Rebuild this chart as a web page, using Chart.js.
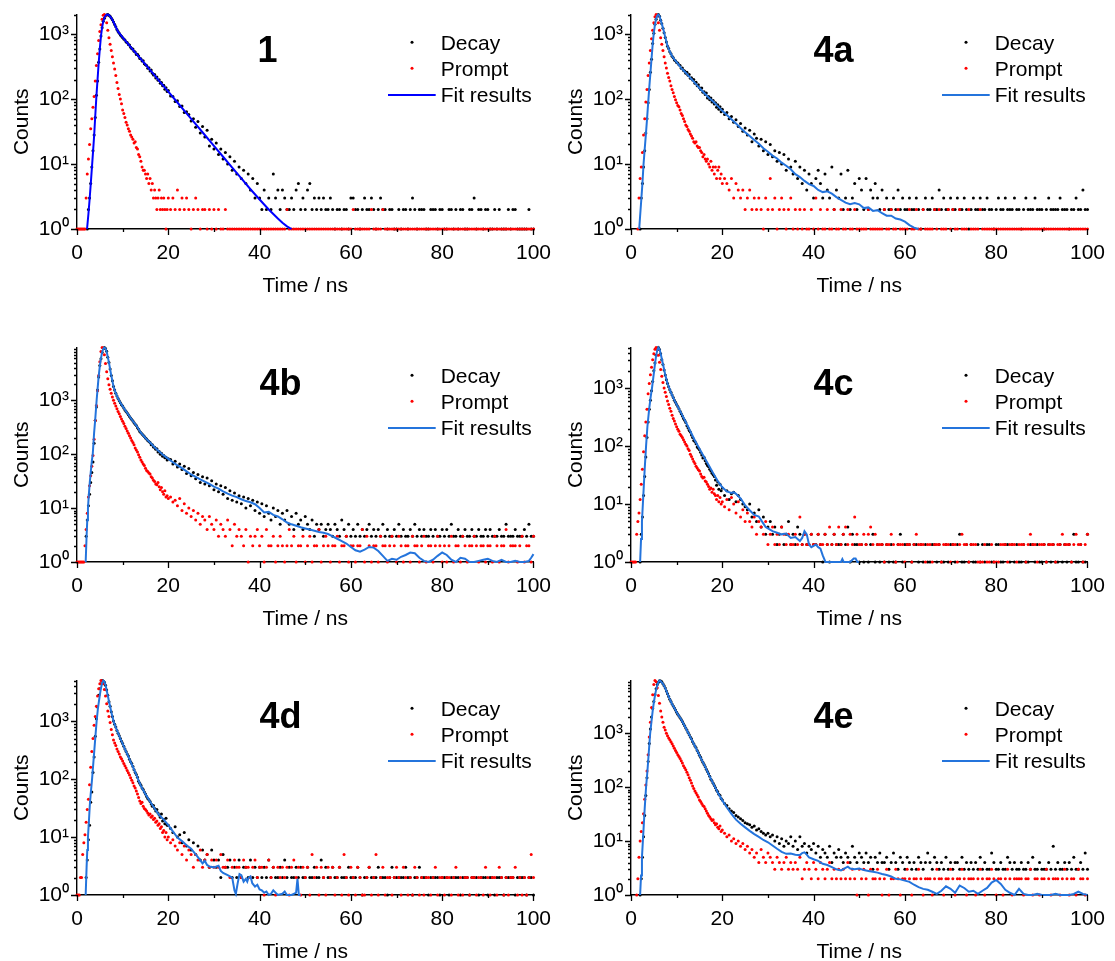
<!DOCTYPE html>
<html><head><meta charset="utf-8">
<script src="https://cdn.jsdelivr.net/npm/chart.js@4.4.1/dist/chart.umd.min.js"></script>
<style>
html,body{margin:0;padding:0;background:#fff;overflow:hidden;}
#wrap{position:relative;width:1115px;height:961px;background:#fff;}
canvas{position:absolute;}
</style></head><body><div id="wrap">
<canvas id="c0" width="557" height="295" style="left:0px;top:0px"></canvas>
<canvas id="c1" width="557" height="295" style="left:554px;top:0px"></canvas>
<canvas id="c2" width="557" height="295" style="left:0px;top:333px"></canvas>
<canvas id="c3" width="557" height="295" style="left:554px;top:333px"></canvas>
<canvas id="c4" width="557" height="295" style="left:0px;top:666px"></canvas>
<canvas id="c5" width="557" height="295" style="left:554px;top:666px"></canvas>
</div>
<script>
// ---- time channels (ns) ----
const TA=[0,0.25,0.5,0.75,1,1.25,1.5,1.75,
2,2.25,2.5,2.75,3,3.25,3.5,3.75,
4,4.25,4.5,4.75,5,5.25,5.5,5.75,
6,6.25,6.5,6.75,7,7.25,7.5,7.75,
8,8.25,8.5,8.75,9,9.25,9.5,9.75,
10,10.25,10.5,10.75,11,11.25,11.5,11.75,
12,12.25,12.5,12.75,13,13.25,13.5,13.75,
14,14.25,14.5,14.75,15,15.25,15.5,15.75,
16,16.25,16.5,16.75,17,17.25,17.5,17.75,
18,18.25,18.5,18.75,19,19.25,19.5,19.75,
20];
const TB=[20.5,21,21.5,22,22.5,23,23.5,24,24.5,25,
25.5,26,26.5,27,27.5,28,28.5,29,29.5,30,
30.5,31,31.5,32,32.5,33,33.5,34,34.5,35,
35.5,36,36.5,37,37.5,38,38.5,39,39.5,40,
40.5,41,41.5,42,42.5,43,43.5,44,44.5,45,
45.5,46,46.5,47,47.5,48,48.5,49,49.5,50,
50.5,51,51.5,52,52.5,53,53.5,54,54.5,55,
55.5,56,56.5,57,57.5,58,58.5,59,59.5,60,
60.5,61,61.5,62,62.5,63,63.5,64,64.5,65,
65.5,66,66.5,67,67.5,68,68.5,69,69.5,70,
70.5,71,71.5,72,72.5,73,73.5,74,74.5,75,
75.5,76,76.5,77,77.5,78,78.5,79,79.5,80,
80.5,81,81.5,82,82.5,83,83.5,84,84.5,85,
85.5,86,86.5,87,87.5,88,88.5,89,89.5,90,
90.5,91,91.5,92,92.5,93,93.5,94,94.5,95,
95.5,96,96.5,97,97.5,98,98.5,99,99.5,100];
const T=TA.concat(TB);

// ---- panel 1 ----
const DECAY_1=[0,0,0,0,0,0,0,0,
0,1,2,3,5,9,16,28,
52,115,190,370,590,940,1250,1580,
1760,1930,1980,2000,1950,1880,1780,1660,
1540,1410,1300,1180,1100,1030,970,925,
880,842,815,760,745,690,680,628,
596,590,545,532,486,490,462,420,
418,385,390,350,338,330,298,305,
272,280,250,236,240,212,218,195,
198,176,180,160,164,142,150,131,
136,
112,110,92,94,77,78,62,64,58,46,
50,37,45,30,38,26,33,19,24,17,
21,14,17,12,15,10,13,8,11,7,
9,6,8,5,7,4,6,3,5,3,
2,4,2,3,2,7,3,4,2,4,
3,2,2,3,2,4,5,2,3,2,
4,5,2,3,2,3,2,3,2,2,
3,2,1,2,2,1,2,2,1,3,
3,2,2,1,2,3,2,2,3,2,
1,2,3,2,2,1,2,2,1,1,
2,1,2,2,1,2,3,2,1,2,
2,2,1,1,2,2,2,1,2,2,
1,1,2,2,1,2,1,2,2,1,
1,2,2,3,1,2,2,1,2,2,
1,1,2,1,2,1,1,1,2,1,
2,2,1,1,1,1,1,2,1,1];
const PROMPT_1=[1,1,1,1,1,1,1,1,
3,7,12,20,35,50,75,110,
190,330,500,800,1100,1400,1700,1950,
2000,1900,1500,1150,880,700,560,450,
360,290,230,180,145,118,100,85,
68,60,52,44,40,35,32,28,
26,24,21,22,18,17,14,13,
11,9,8,8,7,6,7,5,
6,4,5,3,4,3,2,3,
4,2,3,2,3,2,1,2,
3,
2,3,2,4,2,3,2,3,2,1,
2,3,2,1,2,2,1,2,1,2,
1,2,1,1,2,1,1,1,1,1,
1,1,1,1,1,1,1,1,1,1,
1,1,1,1,1,1,1,1,1,1,
1,2,1,1,1,1,1,1,1,1,
1,1,1,1,1,1,1,1,1,1,
1,1,1,1,1,1,1,1,1,1,
2,1,1,1,1,1,1,1,2,1,
1,1,1,2,1,1,1,1,1,1,
1,1,1,1,1,1,1,1,1,1,
1,1,1,1,1,1,1,1,1,1,
1,1,1,1,1,1,1,1,1,1,
1,1,1,1,1,1,1,1,1,1,
1,1,1,1,1,1,1,1,1,1,
1,1,1,1,1,1,1,1,1,1];
const FIT_T_1=[2.2,2.5,2.75,3,3.25,3.5,3.75,4,4.25,4.5,4.75,5,5.25,5.5,5.75,6,6.25,6.5,6.75,7,7.5,8,8.5,9,10,12,14,16,18,20,22,24,26,28,30,32,34,36,38,40,42,44,45,46,47];
const FIT_1=[1,1.7,2.8,4.8,8.5,15,27,55,110,200,360,600,930,1270,1560,1780,1920,1990,2000,1960,1790,1540,1290,1090,890,606,413,281,191,130,88.6,60.3,41.1,28,19,12.96,8.82,6,4.09,2.85,2,1.45,1.25,1.1,1];

// ---- panel 4a ----
const DECAY_4A=[0,0,0,0,0,0,0,0,
1,3,5,9,16,30,50,88,
140,260,410,720,1030,1420,1700,1950,
2000,1880,1640,1450,1230,1050,890,760,
650,600,535,500,455,435,400,390,
365,360,338,330,298,300,276,270,
250,258,232,240,210,214,196,200,
175,182,160,166,150,140,148,128,
130,118,124,104,110,98,104,90,
95,84,88,75,82,70,76,64,
70,
58,62,50,54,44,48,38,42,32,36,
28,33,22,29,25,19,24,16,22,14,
20,13,16,11,15,10,14,8,12,9,
7,11,6,9,5,8,4,7,5,3,
6,8,5,3,7,4,3,9,2,4,
3,7,2,3,8,2,3,5,2,6,
4,2,6,2,4,3,5,3,2,4,
2,3,2,2,3,2,4,2,3,2,
2,3,2,2,3,2,1,2,3,2,
2,3,2,2,4,2,3,2,2,3,
2,2,3,2,2,3,2,1,2,3,
2,2,3,2,2,3,2,2,1,2,
3,2,2,3,2,2,2,3,2,2,
1,2,3,2,2,2,3,2,2,2,
1,2,3,2,2,2,2,3,2,2,
2,1,2,2,3,2,2,4,2,2];
const PROMPT_4A=[0,0,0,0,0,0,1,3,
6,9,15,28,50,90,140,230,
360,560,850,1150,1500,1850,2000,1900,
1500,1150,880,700,560,450,360,300,
250,215,190,160,140,125,110,98,
88,80,76,68,60,56,50,45,
40,38,34,32,29,27,25,22,
21,22,19,18,18,16,15,13,
14,12,11,12,10,9,11,8,
9,7,9,6,8,9,6,7,
5,
6,5,4,6,3,5,4,3,4,2,
3,4,2,3,2,3,2,1,3,2,
6,2,3,1,2,3,2,1,2,3,
1,2,1,2,1,2,1,1,2,1,
3,1,2,1,1,2,1,1,2,1,
1,2,1,1,2,1,1,2,1,1,
1,1,1,2,1,1,1,1,1,1,
2,1,1,2,1,1,2,1,1,1,
1,2,1,1,2,1,1,2,1,1,
1,1,2,1,2,1,1,1,2,1,
2,1,1,2,1,1,1,2,1,1,
1,1,2,1,1,1,1,1,1,1,
1,1,1,1,1,1,1,1,1,1,
1,1,1,1,1,1,1,1,1,1,
1,1,1,1,1,1,1,1,1,1,
1,1,1,1,1,1,1,1,1,1];
const FIT_T_4A=[1.8,2,2.25,2.5,2.75,3,3.25,3.5,3.75,4,4.25,4.5,4.75,5,5.25,5.5,5.75,6,6.25,6.5,7,7.5,8,8.5,9,9.5,10,
11,12,13,14,15,16,17,18,19,20,21,22,23,24,25,26,27,28,29,30,31,32,33,34,35,36,37,38,39,40,41,42,43,44,45,46,47,48,49,50,51,52,53,54,55,56,57,58,59,60,61,62,63];
const FIT_4A=[1,1.6,2.8,5,10,17,28,48,85,150,250,420,700,1050,1400,1720,1930,2000,1900,1650,1250,900,660,540,460,410,370,
300,255,212,178,148,125,106,92,78,66,57,49,42,36,31,27,23.5,20.5,17.5,15.5,13.5,12.2,10.5,9.4,8.3,7,6.3,5.5,4.9,4.6,4,3.7,3.8,3.5,3.1,2.8,2.55,2.4,2.5,2.4,2.1,2.15,1.9,1.95,1.75,1.6,1.6,1.45,1.4,1.3,1.15,1.05,1];

// ---- panel 4b ----
const DECAY_4B=[0,0,0,0,0,0,0,0,
3,6,11,18,30,46,72,160,
420,750,1550,2700,4400,5900,7700,9100,
9500,9100,8100,6300,5000,3800,2900,2300,
1800,1550,1350,1200,1080,980,900,830,
780,720,660,620,580,540,500,470,
440,415,385,360,340,310,290,265,
250,238,225,212,200,192,180,172,
165,150,150,136,135,124,126,110,
112,100,104,92,95,86,88,78,
82,
80,66,74,58,66,52,60,44,54,40,
46,35,42,30,38,28,36,26,32,22,
28,20,26,18,24,15,21,14,19,13,
17,12,16,10,15,11,14,9,13,8,
12,7,11,8,6,10,7,9,5,8,
6,9,5,7,4,8,5,6,4,7,
5,4,6,3,5,4,5,3,4,5,
4,3,5,4,3,6,4,3,5,3,
4,3,5,3,4,3,4,5,3,4,
3,4,3,5,3,4,3,3,4,3,
5,3,4,3,3,4,3,5,3,4,
3,4,3,3,4,3,4,3,3,4,
3,4,3,5,3,3,4,3,3,4,
3,3,4,3,3,4,3,3,4,3,
4,3,3,3,4,3,3,5,3,3,
3,4,3,3,3,4,3,5,3,3];
const PROMPT_4B=[1,1,1,1,1,1,1,2,
4,8,16,26,40,60,95,190,
420,800,1500,2900,5200,8000,9500,9200,
7000,4800,3400,2500,1950,1600,1350,1150,
1000,880,780,700,620,560,500,450,
410,370,330,300,270,245,220,200,
180,165,150,130,120,110,98,88,
78,72,66,62,55,50,48,45,
43,38,36,33,31,28,27,30,
25,22,24,20,18,21,16,17,
15,
16,13,14,11,15,9,12,8,10,7,
9,6,8,5,7,6,4,7,5,4,
6,3,5,4,3,6,4,2,5,3,
4,3,2,4,1,3,2,3,4,2,
3,1,4,2,2,3,1,2,3,2,
1,2,4,2,3,1,2,2,3,1,
2,3,1,2,2,4,1,2,3,2,
1,2,2,3,1,2,2,3,1,2,
2,1,2,2,4,1,3,2,1,2,
2,1,3,2,2,1,2,3,2,1,
3,2,1,2,2,1,3,2,2,1,
2,3,1,2,2,1,2,3,2,1,
2,1,2,3,1,2,2,1,3,2,
1,2,2,3,2,1,2,2,1,2,
2,1,3,2,1,2,2,4,1,2,
2,2,1,2,3,1,2,2,1,3];
const FIT_T_4B=[1.9,2.1,2.25,2.4,2.6,2.8,3,3.25,3.45,3.75,4,4.3,4.5,4.75,5,5.25,5.5,5.75,6,6.25,6.5,7,7.5,8,8.5,9,9.5,10,10.5,11,
12,13,14,15,16,17,18,19,20,21,22,23,24,25,26,27,28,29,30,31,32,33,34,35,36,37,38,39,40,41,42,43,44,45,46,47,48,49,50,51,
52,53,54,55,56,57,58,59,60,61,62,63,64,65,66,67,68,69,70,71,72,73,74,75,76,77,78,79,80,81,82,83,84,85,86,87,88,89,90,91,
92,93,94,95,96,97,98,99,99.5,100];
const FIT_4B=[1,3,6,10,18,30,45,75,100,250,450,1000,1600,2800,4300,6000,7800,9000,9500,9200,8000,5000,2900,1800,1350,1080,900,780,670,580,
440,340,250,200,165,135,112,95,82,71,62,55,48,42,38,34,31,28,25,23,20.5,18.5,17,16,14.6,13.5,12.8,11.8,10,8.3,8.5,7.5,7,6.2,5.4,5,4.7,4.4,4.2,4.0,
3.8,3.6,3.5,3.3,3.0,2.7,2.45,2.2,1.9,1.65,1.55,1.7,1.9,1.85,1.6,1.3,1.05,1.15,1.1,1.25,1.35,1.5,1.45,1.2,1.05,1.0,1.1,1.3,1.5,1.35,1.1,1.0,1.2,1.15,1.0,1.0,1.05,1.1,1.15,1.05,
1.0,1.1,1.0,1.0,1.05,1.0,1.0,1.05,1.2,1.4];

// ---- panel 4c ----
const DECAY_4C=[0,0,0,0,0,0,0,0,
1,3,6,14,30,65,140,260,
430,620,900,1300,2000,2700,3700,4600,
5000,4650,3900,3100,2550,2050,1680,1400,
1200,1060,940,850,760,690,620,570,
520,480,440,400,360,330,300,280,
255,225,205,185,175,155,140,125,
120,110,96,92,86,78,70,62,
64,56,50,46,44,40,37,34,
32,30,26,21,24,18,22,17,
19,
14,17,12,15,16,11,14,12,10,9,
8,10,6,7,5,8,4,6,3,4,
5,3,4,2,3,4,2,3,5,2,
3,2,4,3,2,3,2,2,3,2,
2,3,2,1,3,2,1,2,3,2,
2,2,3,2,4,1,3,2,2,1,
2,1,2,1,2,3,1,2,1,2,
1,2,1,2,1,1,2,3,1,2,
2,2,1,2,2,1,2,1,2,1,
1,2,2,1,2,1,1,2,1,2,
2,1,2,3,1,1,2,1,2,1,
1,2,1,2,1,2,2,1,1,2,
2,1,1,2,2,1,2,1,2,1,
1,2,1,1,2,2,1,2,1,1,
2,1,2,1,2,1,1,2,1,2,
1,2,1,3,1,1,2,1,1,3];
const PROMPT_4C=[1,1,1,1,1,3,5,7,
12,22,40,80,150,260,430,800,
1200,1700,2300,3100,3900,4700,5000,4600,
3700,2800,2100,1600,1250,1000,850,720,
600,520,450,400,340,300,270,240,
215,195,180,160,150,140,128,118,
108,100,90,84,72,66,60,54,
50,45,42,39,37,33,30,28,
29,25,24,22,20,18,19,16,
18,15,14,12,14,11,13,10,
11,
9,12,8,13,10,7,11,6,8,5,
7,5,4,6,3,5,4,3,5,2,
3,4,2,3,2,4,3,2,3,2,
2,3,2,6,2,3,2,2,3,2,
2,3,2,2,3,2,4,2,3,2,
4,2,3,4,2,3,2,6,3,2,
2,3,2,3,4,2,3,2,2,2,
1,2,2,3,2,1,2,2,2,1,
2,2,1,2,3,2,2,2,1,2,
2,1,2,2,2,1,2,2,2,1,
2,2,1,2,3,2,2,1,2,2,
2,1,1,1,2,1,1,2,1,1,
1,2,2,2,1,2,2,2,1,2,
2,2,1,2,3,2,2,1,2,2,
2,1,2,2,2,1,2,2,3,2,
2,2,1,2,3,2,2,1,2,3];
const FIT_T_4C=[2,2.2,2.4,2.6,2.8,3,3.3,3.6,4,4.3,4.6,5,5.25,5.5,5.75,6,6.25,6.5,7,7.5,8,8.5,9,9.5,10,10.5,11,12,13,14,
15,16,17,18,19,20,21,22,22.5,23,24,25,26,27,28,29,29.5,30,31,32,33,34,35,36,37,37.5,38,38.5,39,39.5,
40,40.5,41,41.5,42,42.6,43,44,45,46,46.3,46.6,48,48.8,49.2,49.6,50];
const FIT_4C=[1,2.5,5,10,20,40,100,220,450,700,1000,1800,2600,3600,4500,5000,4700,3900,2600,1700,1200,950,760,620,520,440,370,260,180,125,
90,65,47,34,25,19.5,16.5,15.5,16,15,12.5,9.5,7.8,6.5,6.1,4.6,4.0,3.8,3.4,3.2,3.0,3.1,2.6,2.7,2.3,2.6,3.4,3.0,2.0,1.8,
1.9,2.0,1.8,1.7,1.3,1.0,1.0,1.0,1.0,1.0,1.12,1.0,1.0,1.15,1.15,1.0,1.0];

// ---- panel 4d ----
const DECAY_4D=[0,0,0,0,0,0,0,0,
2,4,9,16,40,60,130,240,
550,1100,1750,2800,3600,4400,5000,4900,
4700,4150,3450,2800,2150,1800,1450,1200,
1000,880,790,690,620,560,500,450,
410,370,330,300,270,250,220,200,
185,165,145,130,120,108,92,85,
78,70,66,60,55,50,46,44,
41,37,34,35,31,28,30,26,
24,22,25,19,20,17,21,16,
16,
14,12,15,10,11,8,12,7,9,6,
8,5,7,4,6,4,5,3,6,4,
3,4,2,5,3,3,4,2,3,2,
4,2,3,3,2,4,2,3,2,3,
2,3,2,4,2,3,2,2,3,2,
4,2,3,2,2,3,2,3,2,2,
3,2,2,3,2,2,4,2,3,2,
2,3,2,2,3,2,2,2,3,2,
2,2,3,2,1,2,2,3,2,2,
2,3,2,2,2,1,2,3,2,2,
2,2,2,3,2,2,1,2,2,3,
2,2,2,1,2,2,2,2,1,2,
2,2,1,2,2,2,2,1,2,2,
2,1,2,2,2,1,2,2,2,1,
2,2,1,2,2,2,1,2,2,2,
2,1,2,2,2,2,1,2,2,1];
const PROMPT_4D=[1,1,1,2,2,5,8,11,
18,30,45,80,160,300,500,850,
1200,1800,2700,3600,4400,5000,4900,4400,
3500,2700,2000,1500,1200,950,720,580,
470,420,380,330,300,270,240,225,
205,185,170,155,140,128,118,105,
95,86,76,70,62,55,48,42,
38,40,34,31,30,28,26,24,
25,22,23,20,21,18,19,16,
17,14,15,12,13,10,12,9,
10,
8,9,7,6,8,5,7,4,6,5,
3,5,4,6,3,4,5,3,4,3,
4,3,5,3,3,4,2,3,4,3,
3,2,4,3,3,2,3,4,2,3,
3,1,3,4,2,3,1,3,2,3,
2,3,1,3,4,2,3,1,3,2,
3,1,5,2,3,1,3,2,1,3,
2,3,1,2,3,1,5,2,1,3,
2,1,3,2,1,1,2,3,1,2,
5,1,2,3,1,2,2,1,2,3,
2,1,3,2,1,2,1,3,2,1,
2,1,2,2,1,2,3,1,2,2,
1,2,2,1,2,3,1,2,1,2,
2,1,2,2,1,2,2,1,3,2,
1,2,2,1,3,2,1,2,1,2,
2,3,1,2,1,2,1,2,5,2];
const FIT_T_4D=[1.9,2.1,2.25,2.4,2.6,2.8,3,3.3,3.6,3.9,4.3,4.6,5,5.25,5.5,5.75,6,6.25,6.5,7,7.5,8,8.5,9,9.5,10,10.5,11,12,13,
14,15,16,17,18,19,20,21,22,23,24,25,26,27,27.5,28,28.5,29,30,31,31.5,32,33,33.5,34,34.5,34.8,35.2,35.6,36,
36.5,37,37.3,37.6,38,38.4,39,39.5,40,40.5,41,41.5,42,42.5,43,43.5,44,45,45.5,46,47,47.5,48,48.3,48.6,49];
const FIT_4D=[1,3,6,10,18,35,55,100,200,400,1000,1700,2800,3700,4500,5000,4800,4200,3400,2200,1450,1000,780,620,500,410,330,270,180,118,
76,55,41,31,24,20,16,12.5,9.8,8.5,7.2,6.3,5.0,4.0,3.5,3.9,3.3,3.1,3.0,3.2,2.6,2.4,2.2,2.1,2.0,1.2,1.05,1.6,2.3,2.2,
1.7,1.9,1.7,2.0,2.1,1.6,1.4,1.5,1.25,1.2,1.1,1.15,1.0,1.05,1.2,1.1,1.0,1.05,1.15,1.0,1.0,1.05,1.1,1.9,1.0,1.0];

// ---- panel 4e ----
const DECAY_4E=[0,0,0,0,0,0,0,0,
1,2,5,12,30,70,150,300,
650,1200,2000,2900,3900,5200,6700,8000,
8900,9400,9300,9000,8300,7600,6900,6100,
5400,4800,4300,3900,3500,3200,2950,2700,
2450,2250,2100,1950,1800,1650,1500,1380,
1250,1150,1040,940,850,790,700,640,
580,540,480,435,390,360,320,290,
265,240,215,195,178,160,140,130,
118,108,98,88,82,74,70,62,
58,
50,46,40,36,34,30,28,26,24,22,
21,20,18,19,16,17,15,14,13,14,
12,13,10,12,9,11,8,10,9,12,
8,10,7,12,8,9,6,8,7,9,
6,8,5,7,6,5,8,4,6,5,
7,5,4,6,5,4,8,5,4,6,
5,4,6,4,5,3,5,4,6,4,
4,5,3,4,6,4,3,5,4,3,
5,4,3,4,3,5,4,3,4,6,
4,3,5,4,3,4,3,5,3,4,
3,4,4,3,5,3,4,3,4,3,
4,3,5,3,4,3,3,6,4,3,
3,4,3,3,5,4,3,4,3,3,
4,3,3,4,3,5,3,3,4,3,
3,3,4,3,8,3,4,3,3,4,
3,4,3,5,3,3,4,3,6,3];
const PROMPT_4E=[0,0,0,0,0,1,2,5,
10,15,22,32,60,110,200,400,
850,1600,3000,5200,8000,9500,9000,7000,
5000,3600,2600,2000,1600,1300,1150,1000,
900,820,760,700,640,580,530,480,
440,400,370,340,310,280,250,230,
210,190,170,150,135,120,105,95,
85,78,72,66,58,54,50,46,
44,40,36,33,30,28,26,24,
25,22,20,21,18,17,19,15,
16,
14,12,13,10,11,9,10,8,9,7,
8,6,7,5,6,4,7,5,4,6,
5,4,3,5,4,3,4,5,3,4,
3,4,3,5,2,3,4,3,2,4,
3,2,4,3,2,3,4,2,3,2,
3,2,3,2,4,2,3,2,1,3,
2,3,2,1,3,2,2,3,2,1,
2,3,1,2,2,3,2,1,2,2,
3,2,1,2,2,3,2,1,2,2,
2,1,2,3,2,2,1,2,2,3,
2,1,2,2,3,2,1,2,2,2,
1,2,3,2,1,2,2,3,2,1,
2,2,1,2,3,2,1,2,2,2,
2,1,2,2,3,1,2,2,1,2,
2,3,2,1,2,2,2,1,2,3,
2,1,2,2,1,3,2,2,1,2];
const FIT_T_4E=[2,2.2,2.4,2.6,2.8,3,3.3,3.6,3.9,4.2,4.5,4.75,5,5.25,5.5,5.75,6,6.25,6.5,7,7.5,8,8.5,9,9.5,10,10.5,11,
12,13,14,15,16,17,18,19,20,21,22,23,24,25,26,27,28,29,30,31,32,33,34,35,36,37,37.5,38,38.5,
39,40,41,42,43,44,45,46,47,47.5,
48,49,50,51,52,53,54,55,56,57,58,59,60,61,62,63,64,65,66,67,68,69,70,71,72,73,74,75,76,77,
78,79,80,81,82,83,84,85,86,87,88,89,90,91,92,93,94,95,96,97,98,99,100];
const FIT_4E=[1,2.3,5,10,20,40,100,200,450,1000,1700,2600,3700,5000,6400,7800,8900,9500,9300,8300,6900,5400,4300,3500,2950,2450,2100,1800,
1250,850,580,390,265,175,118,80,57,42,32,25,21,18,15.5,13.5,12,10.5,9.5,8.3,7.2,6.3,5.8,5.9,5.6,5.5,6.0,6.2,5.6,
5.0,4.6,4.3,3.8,3.6,3.3,3.0,2.85,3.2,3.35,
3.1,3.0,3.1,2.9,2.8,2.7,2.6,2.45,2.35,2.2,2.0,1.95,1.85,1.75,1.55,1.4,1.3,1.25,1.15,1.05,1.2,1.45,1.3,1.1,1.5,1.35,1.15,1.2,1.05,1.2,
1.35,1.7,1.9,1.6,1.25,1.1,1.0,1.3,1.05,1.0,1.0,1.05,1.0,1.0,1.0,1.05,1.0,1.0,1.0,1.05,1.15,1.05,1.0];

// ---- labels ----
const PANEL_LABELS=['1','4a','4b','4c','4d','4e'];
const Y_MAX=[2000,2000,9500,5000,5000,9500];
const Y_DECADE_LABELS=['10\u2070','10\u00B9','10\u00B2','10\u00B3','10\u2074'];
const X_LABELED=[0,20,40,60,80,100];
const LEGEND_TEXT=['Decay','Prompt','Fit results'];
const X_TITLE='Time / ns', Y_TITLE='Counts';

const FONT="'Liberation Sans', Arial, Helvetica, sans-serif";

function toPoints(xs, ys){
  const out=[]; const n=Math.min(xs.length, ys.length);
  for(let i=0;i<n;i++){ if(ys[i]>0) out.push({x:xs[i], y:ys[i]}); }
  return out;
}
function isDecade(v){ const e=Math.log10(v); return Math.abs(e-Math.round(e))<1e-9; }
function logTickValues(max){
  const out=[];
  for(let e=0;e<5;e++){ for(let s=1;s<10;s++){ const v=s*Math.pow(10,e); if(v<=max*1.0001) out.push(v); } }
  return out;
}

const decor={
  id:'decor',
  afterDraw(chart, args, o){
    const ctx=chart.ctx, a=chart.chartArea, xs=chart.scales.x, ys=chart.scales.y;
    ctx.save();
    ctx.strokeStyle='#000'; ctx.lineWidth=1.3; ctx.beginPath();
    xs.ticks.forEach(t=>{ const px=Math.round(xs.getPixelForValue(t.value))+0.5; const len=(X_LABELED.indexOf(t.value)>=0)?6:3; ctx.moveTo(px,a.bottom); ctx.lineTo(px,a.bottom+len); });
    ys.ticks.forEach(t=>{ const py=Math.round(ys.getPixelForValue(t.value))+0.5; const len=isDecade(t.value)?6:3; ctx.moveTo(a.left,py); ctx.lineTo(a.left-len,py); });
    ctx.stroke();
    ctx.fillStyle='#000'; ctx.font='21px '+FONT; ctx.textAlign='center'; ctx.textBaseline='alphabetic';
    ctx.fillText(X_TITLE,(a.left+a.right)/2,a.bottom+62.5);
    ctx.save(); ctx.translate(28,(a.top+a.bottom)/2); ctx.rotate(-Math.PI/2); ctx.fillText(Y_TITLE,0,0); ctx.restore();
    const L=a.left, Tp=a.top;
    ctx.fillStyle='#000'; ctx.beginPath(); ctx.arc(L+335,Tp+27.7,1.5,0,Math.PI*2); ctx.fill();
    ctx.fillStyle='#ff0000'; ctx.beginPath(); ctx.arc(L+335,Tp+53.7,1.5,0,Math.PI*2); ctx.fill();
    ctx.strokeStyle=o.fitColor; ctx.lineWidth=2; ctx.beginPath(); ctx.moveTo(L+311,Tp+80.3); ctx.lineTo(L+358.7,Tp+80.3); ctx.stroke();
    ctx.fillStyle='#000'; ctx.textAlign='left';
    ctx.fillText(LEGEND_TEXT[0],L+363.7,Tp+35.3);
    ctx.fillText(LEGEND_TEXT[1],L+363.7,Tp+61.5);
    ctx.fillText(LEGEND_TEXT[2],L+363.7,Tp+87.7);
    ctx.font='bold 36px '+FONT;
    const m=ctx.measureText(o.label);
    ctx.fillText(o.label,L+182.5+(m.actualBoundingBoxLeft||0),Tp+47);
    ctx.restore();
  }
};

const PANELS=[
  {decay:DECAY_1, prompt:PROMPT_1, ft:FIT_T_1, fv:FIT_1, color:'#0000ff'},
  {decay:DECAY_4A, prompt:PROMPT_4A, ft:FIT_T_4A, fv:FIT_4A, color:'#2474dc'},
  {decay:DECAY_4B, prompt:PROMPT_4B, ft:FIT_T_4B, fv:FIT_4B, color:'#2474dc'},
  {decay:DECAY_4C, prompt:PROMPT_4C, ft:FIT_T_4C, fv:FIT_4C, color:'#2474dc'},
  {decay:DECAY_4D, prompt:PROMPT_4D, ft:FIT_T_4D, fv:FIT_4D, color:'#2474dc'},
  {decay:DECAY_4E, prompt:PROMPT_4E, ft:FIT_T_4E, fv:FIT_4E, color:'#2474dc'}
];

PANELS.forEach((p,i)=>{
  const ymax=Y_MAX[i];
  new Chart(document.getElementById('c'+i),{
    type:'scatter',
    data:{datasets:[
      {label:LEGEND_TEXT[0], data:toPoints(T,p.decay), backgroundColor:'#000', borderColor:'#000', pointRadius:1.5, pointBorderWidth:0, pointHoverRadius:0, order:3, clip:4},
      {label:LEGEND_TEXT[1], data:toPoints(T,p.prompt), backgroundColor:'#ff0000', borderColor:'#ff0000', pointRadius:1.5, pointBorderWidth:0, pointHoverRadius:0, order:2, clip:4},
      {label:LEGEND_TEXT[2], data:toPoints(p.ft,p.fv), showLine:true, borderColor:p.color, backgroundColor:p.color, borderWidth:2, pointRadius:0, pointHoverRadius:0, tension:0, fill:false, order:1, clip:4}
    ]},
    options:{
      responsive:false, animation:false, devicePixelRatio:1, events:[],
      layout:{padding:{top:13,right:17,bottom:0,left:0}},
      plugins:{legend:{display:false}, tooltip:{enabled:false}, decor:{label:PANEL_LABELS[i], fitColor:p.color}},
      scales:{
        x:{type:'linear', min:0, max:100,
          afterFit:(s)=>{ s.height=66; },
          grid:{display:true, drawOnChartArea:false, drawTicks:true, tickLength:6, color:'rgba(0,0,0,0)'},
          border:{display:true, color:'#000', width:1.4},
          ticks:{stepSize:10, autoSkip:false, maxRotation:0, padding:6, color:'#000', font:{family:FONT, size:21},
            callback:(v)=> X_LABELED.indexOf(v)>=0 ? String(v) : ''}
        },
        y:{type:'logarithmic', min:1, max:ymax,
          afterFit:(s)=>{ s.width=77; },
          afterBuildTicks:(s)=>{ s.ticks=logTickValues(ymax).map(v=>({value:v})); },
          grid:{display:true, drawOnChartArea:false, drawTicks:true, tickLength:6, color:'rgba(0,0,0,0)'},
          border:{display:true, color:'#000', width:1.4},
          ticks:{autoSkip:false, padding:2, color:'#000', font:{family:FONT, size:21},
            callback:(v)=>{ if(!isDecade(v)) return ''; return Y_DECADE_LABELS[Math.round(Math.log10(v))]; }}
        }
      }
    },
    plugins:[decor]
  });
});
</script>
</body></html>
